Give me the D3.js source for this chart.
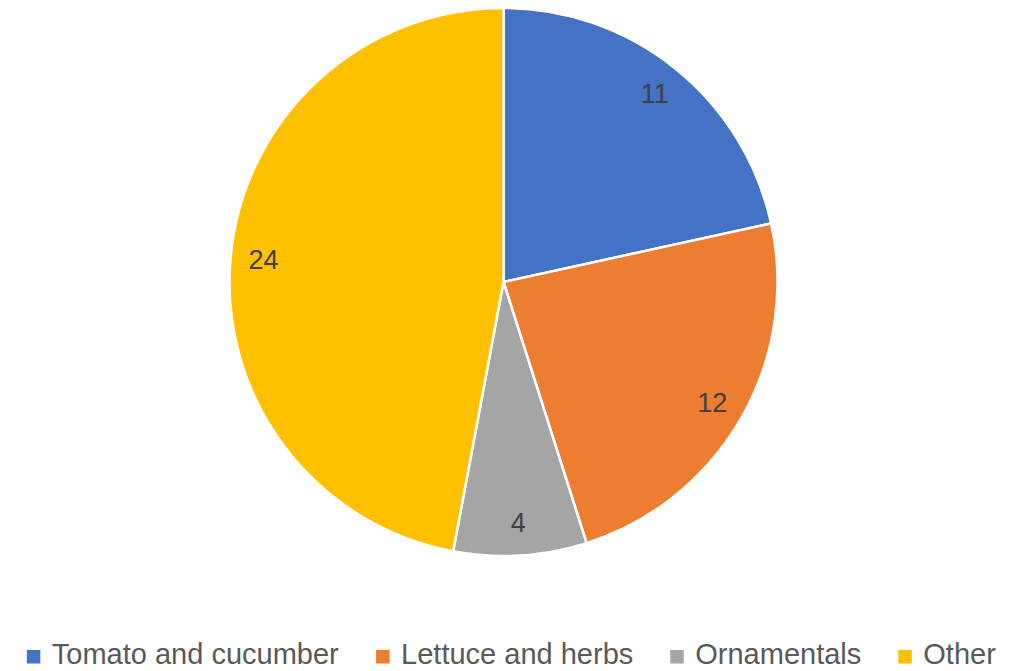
<!DOCTYPE html>
<html>
<head>
<meta charset="utf-8">
<script src="https://cdn.jsdelivr.net/npm/d3@7"></script>
<style>
  html, body { margin: 0; padding: 0; background: #fff; overflow: hidden; }
  svg { display: block; font-family: "Liberation Sans", Arial, sans-serif; }
</style>
</head>
<body>
<div id="chart"></div>
<script>
const categories = ["Tomato and cucumber", "Lettuce and herbs", "Ornamentals", "Other"];
const values = [11, 12, 4, 24];
const colors = ["#4472C4", "#ED7D31", "#A5A5A5", "#FFC000"];

const W = 1023, H = 671;
const cx = 503.5, cy = 282, R = 274;

const svg = d3.select('#chart')
  .append('svg')
  .attr('width', W)
  .attr('height', H);

const pie = d3.pie().sort(null).value(d => d.value);
const arcs = pie(categories.map((c, i) => ({ name: c, value: values[i], color: colors[i] })));

const arc = d3.arc().innerRadius(0).outerRadius(R);
const labelArc = d3.arc().innerRadius(R * 0.88).outerRadius(R * 0.88);

const g = svg.append('g').attr('transform', `translate(${cx},${cy})`);

g.selectAll('path.slice')
  .data(arcs)
  .enter()
  .append('path')
  .attr('class', 'slice')
  .attr('d', arc)
  .attr('fill', d => d.data.color)
  .attr('stroke', '#fff')
  .attr('stroke-width', 2.5)
  .attr('stroke-linejoin', 'round');

g.selectAll('text.val')
  .data(arcs)
  .enter()
  .append('text')
  .attr('class', 'val')
  .attr('x', d => labelArc.centroid(d)[0])
  .attr('y', d => labelArc.centroid(d)[1])
  .attr('text-anchor', 'middle')
  .attr('dominant-baseline', 'central')
  .attr('font-size', '27px')
  .attr('fill', '#404040')
  .text(d => d.data.value);

// legend, centred row at the bottom
const legend = svg.append('g');
const fs = 29, sq = 13.5, gapSq = 11.5, gapItem = 37;
const items = legend.selectAll('g.item')
  .data(arcs)
  .enter()
  .append('g')
  .attr('class', 'item');

items.append('rect')
  .attr('width', sq)
  .attr('height', sq)
  .attr('fill', d => d.data.color);

items.append('text')
  .attr('x', sq + gapSq)
  .attr('y', 14)
  .attr('font-size', fs + 'px')
  .attr('fill', '#595959')
  .text(d => d.data.name);

let widths = [];
items.each(function() { widths.push(this.getBBox().width); });
const total = d3.sum(widths) + gapItem * (widths.length - 1);
let x = (W - total) / 2;
items.attr('transform', (d, i) => {
  const t = `translate(${x},650)`;
  x += widths[i] + gapItem;
  return t;
});
</script>
</body>
</html>
